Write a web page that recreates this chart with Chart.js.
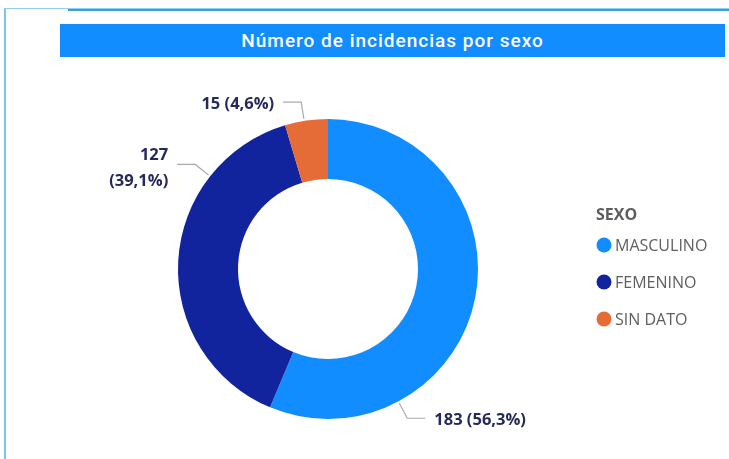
<!DOCTYPE html>
<html>
<head>
<meta charset="utf-8">
<script src="https://cdn.jsdelivr.net/npm/chart.js@4"></script>
<style>
    html, body { margin: 0; padding: 0; background: #fff; }
    body { width: 729px; height: 459px; position: relative; overflow: hidden; }
    .frame-left { position: absolute; left: 4px; top: 8px; width: 2px; height: 451px; background: #7cc6ea; }
    .frame-top { position: absolute; left: 4px; top: 8px; width: 725px; height: 1px; background: #8fd0ef; }
    .frame-top-dark { position: absolute; left: 68px; top: 9px; width: 661px; height: 2px; background: #3a9be0; }
    .title-bar {
        position: absolute; left: 60px; top: 24px; width: 665px; height: 33px;
        background: #118dff; color: #fff;
        font-family: Roboto, sans-serif; font-weight: 500; font-size: 19px;
        letter-spacing: 1px;
        line-height: 33px; text-align: center;
    }
    .chart-box { position: absolute; left: 0; top: 0; width: 729px; height: 459px; }
</style>
</head>
<body>
<div class="frame-left"></div>
<div class="frame-top"></div>
<div class="frame-top-dark"></div>
<div class="title-bar">Número de incidencias por sexo</div>
<div class="chart-box"><canvas id="sexo-chart"></canvas></div>

<script>
// =====================
// DATA
// =====================

const categories = ['MASCULINO', 'FEMENINO', 'SIN DATO'];
const counts = [183, 127, 15];
const colors = ['#118dff', '#12239e', '#e66c37'];
const legendTitle = 'SEXO';

// where along each slice the leader line leaves the ring (0..1)
const leaderAt = [0.75, 0.75, 0.45];

const total = counts.reduce((a, b) => a + b, 0);

function pctLabel(v) {
    return (v / total * 100).toFixed(1).replace('.', ',') + '%';
}

// =====================
// PLUGINS
// =====================

const leaderLabels = {
    id: 'leaderLabels',
    afterDraw(chart) {
        const ctx = chart.ctx;
        const meta = chart.getDatasetMeta(0);
        ctx.save();
        ctx.font = 'bold 16.5px "Open Sans", sans-serif';
        ctx.fillStyle = '#252a5a';
        ctx.strokeStyle = '#aaaaaa';
        ctx.lineWidth = 1.2;
        ctx.textBaseline = 'middle';

        meta.data.forEach((arc, i) => {
            const a = arc.startAngle + (arc.endAngle - arc.startAngle) * leaderAt[i];
            const r = arc.outerRadius;
            const x0 = arc.x + Math.cos(a) * (r + 2);
            const y0 = arc.y + Math.sin(a) * (r + 2);
            const x1 = arc.x + Math.cos(a) * (r + 19);
            const y1 = arc.y + Math.sin(a) * (r + 19);
            const dir = Math.cos(a) >= 0 ? 1 : -1;
            const x2 = x1 + dir * 18;

            ctx.beginPath();
            ctx.moveTo(x0, y0);
            ctx.lineTo(x1, y1);
            ctx.lineTo(x2, y1);
            ctx.stroke();

            const value = counts[i];
            const text = value + ' (' + pctLabel(value) + ')';
            ctx.textAlign = dir > 0 ? 'left' : 'right';
            const tx = x2 + dir * 9;
            if (i === 1) {
                // two-line label on the left side
                ctx.fillText(String(value), tx, y1 - 9);
                ctx.fillText('(' + pctLabel(value) + ')', tx, y1 + 17);
            } else {
                ctx.fillText(text, tx, y1 + 2);
            }
        });
        ctx.restore();
    }
};

const sideLegend = {
    id: 'sideLegend',
    afterDraw(chart) {
        const ctx = chart.ctx;
        ctx.save();
        ctx.textBaseline = 'middle';
        ctx.textAlign = 'left';
        ctx.fillStyle = '#605e5c';
        ctx.font = 'bold 16px "Open Sans", sans-serif';
        ctx.fillText(legendTitle, 596, 215);

        ctx.font = '16px "Open Sans", sans-serif';
        categories.forEach((name, i) => {
            const y = 245 + i * 37;
            ctx.beginPath();
            ctx.fillStyle = colors[i];
            ctx.arc(604, y, 7.5, 0, Math.PI * 2);
            ctx.fill();
            ctx.fillStyle = '#605e5c';
            ctx.fillText(name, 615, y + 1);
        });
        ctx.restore();
    }
};

// =====================
// CHART
// =====================

new Chart(document.getElementById('sexo-chart'), {
    type: 'doughnut',
    data: {
        labels: categories,
        datasets: [{
            data: counts,
            backgroundColor: colors,
            borderWidth: 0,
        }],
    },
    options: {
        responsive: true,
        maintainAspectRatio: false,
        animation: false,
        cutout: '60%',
        layout: {
            padding: { left: 178, right: 251, top: 119, bottom: 40 },
        },
        plugins: {
            legend: { display: false },
            tooltip: { enabled: false },
        },
    },
    plugins: [leaderLabels, sideLegend],
});
</script>
</body>
</html>
